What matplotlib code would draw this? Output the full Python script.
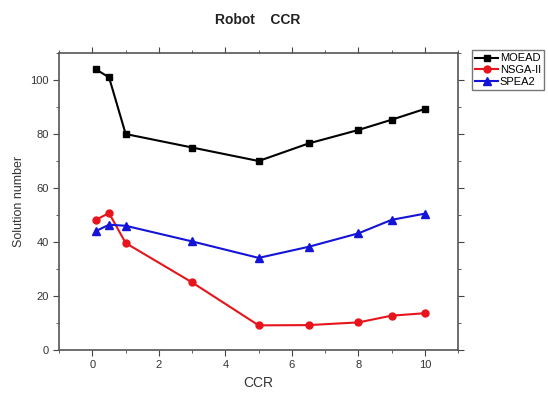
import matplotlib
matplotlib.use("Agg")
import matplotlib.pyplot as plt
from matplotlib.ticker import MultipleLocator

plt.rcParams['font.family'] = ['Liberation Sans', 'DejaVu Sans']

# CCR values on the x axis
ccr = [0.1, 0.5, 1, 3, 5, 6.5, 8, 9, 10]

# solution numbers per algorithm
moead = [104, 101, 80, 75, 70, 76.5, 81.5, 85.3, 89.3]
nsga2 = [48.2, 50.7, 39.6, 25, 9.1, 9.2, 10.2, 12.7, 13.6]
spea2 = [44, 46.4, 46, 40.2, 34.1, 38.2, 43.2, 48.2, 50.5]

fig = plt.figure(figsize=(5.48, 3.99), dpi=100)
ax = fig.add_axes([0.108, 0.123, 0.728, 0.744])

ax.plot(ccr, moead, color='black', marker='s', markersize=5, linewidth=1.5, label='MOEAD')
ax.plot(ccr, nsga2, color='#e8141c', marker='o', markersize=5, linewidth=1.5, label='NSGA-II')
ax.plot(ccr, spea2, color='#1414d8', marker='^', markersize=5.5, linewidth=1.5, label='SPEA2')

ax.set_xlim(-1, 11)
ax.set_ylim(0, 110)
ax.xaxis.set_major_locator(MultipleLocator(2))
ax.xaxis.set_minor_locator(MultipleLocator(1))
ax.yaxis.set_major_locator(MultipleLocator(20))
ax.yaxis.set_minor_locator(MultipleLocator(10))
ax.tick_params(which='both', direction='out', top=True, right=True,
               labelsize=8, labelcolor='#333333', color='#444444')
ax.tick_params(which='major', length=4)
ax.tick_params(which='minor', length=2.5)
for s in ax.spines.values():
    s.set_color('#555555')
    s.set_linewidth(1.2)

ax.set_xlabel('CCR', fontsize=10, color='#333333')
ax.set_ylabel('Solution number', fontsize=9, color='#333333')
fig.text(0.47, 0.95, 'Robot    CCR', ha='center', va='center',
         fontsize=10, fontweight='bold', color='#222222')

ax.legend(loc='upper left', bbox_to_anchor=(1.035, 1.01), fontsize=8,
          frameon=True, fancybox=False, edgecolor='#555555', borderpad=0.3,
          handlelength=2.0, handletextpad=0.2, labelspacing=0.15,
          borderaxespad=0.0)

fig.savefig('out.png', dpi=100)
